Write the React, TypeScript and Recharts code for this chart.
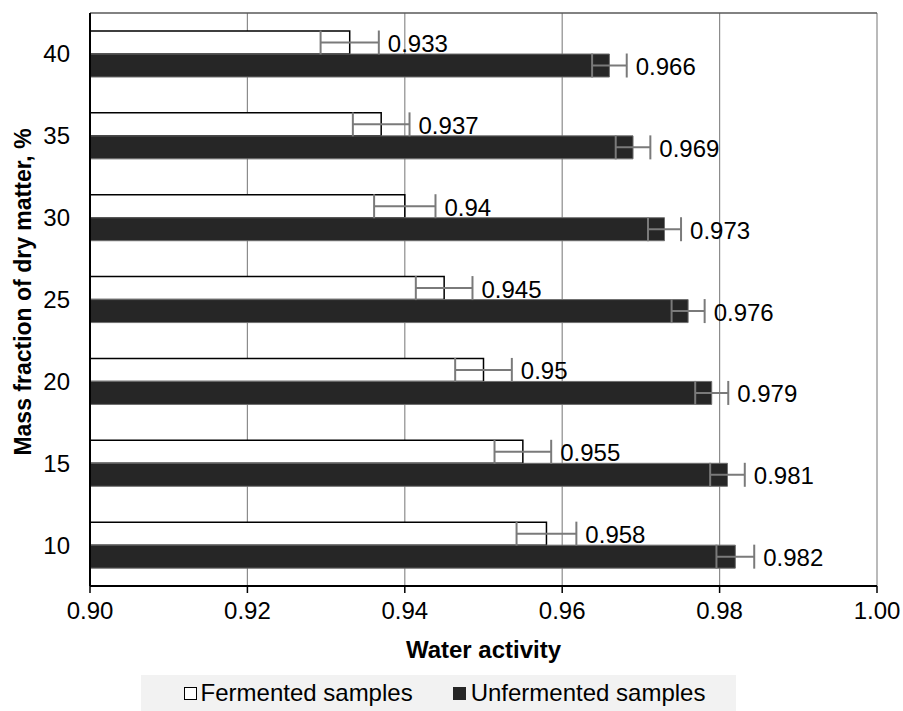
import { BarChart, Bar, XAxis, YAxis, CartesianGrid, Legend, ErrorBar, LabelList, Label } from 'recharts';

// dry matter, %, listed top to bottom as drawn
const dryMatter = ['40', '35', '30', '25', '20', '15', '10'];
const fermented = [0.933, 0.937, 0.94, 0.945, 0.95, 0.955, 0.958];
const unfermented = [0.966, 0.969, 0.973, 0.976, 0.979, 0.981, 0.982];
const fermentedErr = [0.0037, 0.0036, 0.0039, 0.0036, 0.0036, 0.0036, 0.0038];
const unfermentedErr = [0.0022, 0.0022, 0.0021, 0.0021, 0.0021, 0.0022, 0.0024];
const xTicks = [0.9, 0.92, 0.94, 0.96, 0.98, 1.0];

const data = dryMatter.map((dm, i) => ({
    dm,
    fermented: fermented[i],
    unfermented: unfermented[i],
    fermentedErr: fermentedErr[i],
    unfermentedErr: unfermentedErr[i],
}));

const FONT = '"Liberation Sans", Arial, sans-serif';
const FS = 24;

const valueLabel = (errs: number[], values: number[]) => (props: any) => {
    const { x, y, width, height, value, index } = props;
    const i = index ?? values.indexOf(value);
    const errPx = (errs[i] * width) / (value - 0.9);
    return (
        <text
            x={x + width + errPx + 9}
            y={y + height / 2 + 1}
            fontSize={FS}
            fill="#000"
            dominantBaseline="central"
            fontFamily={FONT}
        >
            {value}
        </text>
    );
};

const LegendBox = () => (
    <div
        style={{
            background: '#f2f2f2',
            height: 36,
            display: 'flex',
            alignItems: 'center',
            justifyContent: 'center',
            fontSize: FS,
            fontFamily: FONT,
            color: '#000',
            paddingLeft: 12,
        }}
    >
        <span style={{ width: 11, height: 11, border: '1.5px solid #000', background: '#fff', marginRight: 4 }} />
        <span style={{ marginRight: 40 }}>Fermented samples</span>
        <span style={{ width: 13, height: 13, background: '#262626', marginRight: 5 }} />
        <span>Unfermented samples</span>
    </div>
);

export default function App() {
    return (
        <div style={{ position: 'absolute', left: 0, top: 0, fontFamily: FONT, background: '#fff' }}>
            <BarChart
                width={903}
                height={711}
                data={data}
                layout="vertical"
                margin={{ top: 13, right: 26, left: 0, bottom: 0 }}
                barCategoryGap="22%"
                barGap={0}
            >
                <CartesianGrid horizontal={false} stroke="#8c8c8c" strokeWidth={1.2} />
                <CartesianGrid
                    vertical={false}
                    stroke="#595959"
                    strokeWidth={1.5}
                    horizontalCoordinatesGenerator={({ offset }: any) => [offset.top]}
                />
                <XAxis
                    type="number"
                    domain={[0.9, 1.0]}
                    ticks={xTicks}
                    allowDataOverflow
                    tickFormatter={(v: number) => v.toFixed(2)}
                    tick={{ fontSize: FS, fill: '#000', fontFamily: FONT }}
                    tickLine={{ stroke: '#000', strokeWidth: 1.5 }}
                    axisLine={{ stroke: '#000', strokeWidth: 2 }}
                    tickSize={7}
                    tickMargin={9}
                    height={89}
                >
                    <Label
                        value="Water activity"
                        position="insideBottom"
                        offset={17}
                        style={{ fontSize: FS, fontWeight: 'bold', fill: '#000', fontFamily: FONT }}
                    />
                </XAxis>
                <YAxis
                    type="category"
                    dataKey="dm"
                    width={90}
                    tickLine={false}
                    tickSize={8}
                    tickMargin={12}
                    tick={{ fontSize: FS, fill: '#000', fontFamily: FONT }}
                    axisLine={{ stroke: '#000', strokeWidth: 2 }}
                >
                    <Label
                        content={() => (
                            <text
                                transform="translate(23,292) rotate(-90)"
                                textAnchor="middle"
                                dominantBaseline="central"
                                fontSize={23}
                                fontWeight="bold"
                                fill="#000"
                                fontFamily={FONT}
                            >
                                Mass fraction of dry matter, %
                            </text>
                        )}
                    />
                </YAxis>
                <Legend
                    verticalAlign="bottom"
                    content={<LegendBox />}
                    wrapperStyle={{ left: 141, bottom: 0, width: 595, height: 36 }}
                />
                <Bar dataKey="fermented" name="Fermented samples" fill="#fff" stroke="#000" strokeWidth={1.5} isAnimationActive={false}>
                    <ErrorBar dataKey="fermentedErr" direction="x" width={12} stroke="#7a7a7a" strokeWidth={2} />
                    <LabelList dataKey="fermented" content={valueLabel(fermentedErr, fermented)} />
                </Bar>
                <Bar dataKey="unfermented" name="Unfermented samples" fill="#262626" stroke="#6e6e6e" strokeWidth={1} isAnimationActive={false}>
                    <ErrorBar dataKey="unfermentedErr" direction="x" width={12} stroke="#7a7a7a" strokeWidth={2} />
                    <LabelList dataKey="unfermented" content={valueLabel(unfermentedErr, unfermented)} />
                </Bar>
            </BarChart>
        </div>
    );
}
